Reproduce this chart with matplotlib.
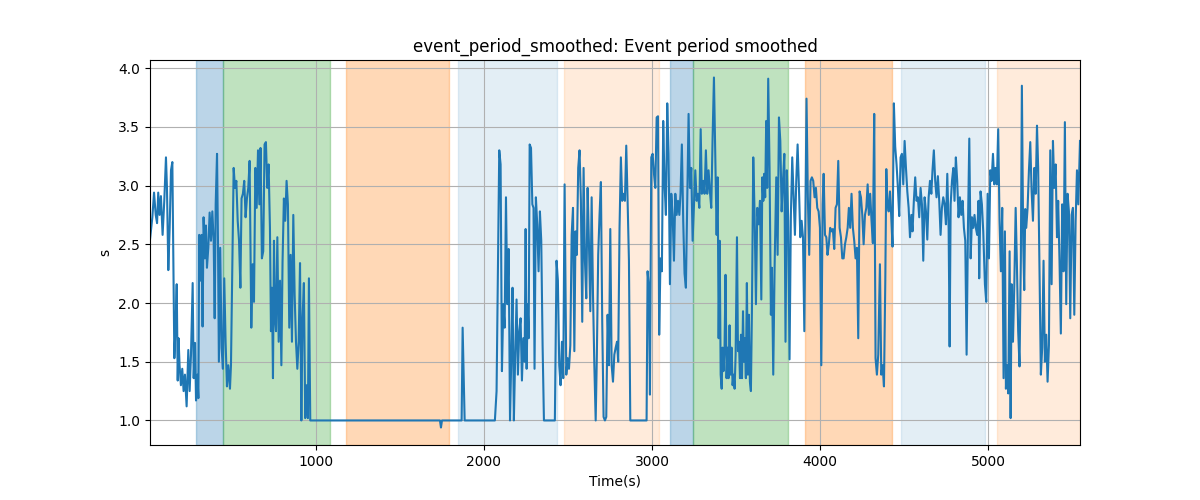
import matplotlib
matplotlib.use("Agg")
import matplotlib.pyplot as plt
import numpy as np

# ---- shaded phases (start, end in seconds) ----
span_start = [286, 446, 1179, 1845, 2476, 3107, 3244, 3911, 4482, 5054]
span_end   = [446, 1083, 1792, 2435, 3042, 3244, 3810, 4429, 4982, 5548]
span_color = ["tab:blue", "tab:green", "tab:orange", "tab:blue", "tab:orange",
              "tab:blue", "tab:green", "tab:orange", "tab:blue", "tab:orange"]
span_alpha = [0.3, 0.3, 0.3, 0.12, 0.15, 0.3, 0.3, 0.3, 0.12, 0.15]

# ---- signal ----
seg1_t = [12, 26, 36, 46, 54, 61, 69, 77, 87, 97,
          107, 113, 121, 129, 137, 145, 153, 157, 165, 171,
          177, 182, 188, 196, 204, 212, 220, 230, 240, 248,
          256, 266, 272, 280, 286, 294, 300, 305, 311, 319,
          325, 331, 339, 345, 351, 359, 367, 375, 383, 391,
          397, 403, 411, 417, 422, 430, 438, 446, 454, 462,
          470, 478, 488, 494, 502, 510, 518, 526, 534, 542,
          550, 557, 565, 573, 581, 589, 597, 605]
seg1_v = [2.54, 2.73, 2.94, 2.75, 2.68, 2.94, 2.75, 2.91, 2.58, 2.87,
          3.24, 2.98, 2.28, 2.64, 3.13, 3.20, 2.13, 1.53, 1.84, 2.16,
          1.34, 1.70, 1.47, 1.30, 1.44, 1.25, 1.39, 1.12, 1.60, 1.25,
          1.56, 2.17, 1.36, 1.66, 1.17, 1.39, 1.19, 2.58, 2.19, 2.58,
          1.80, 2.73, 2.38, 2.66, 2.30, 2.47, 2.77, 2.53, 2.78, 2.53,
          1.87, 2.84, 3.27, 2.47, 1.50, 2.47, 1.62, 1.44, 2.21, 1.67,
          1.29, 1.47, 1.27, 1.47, 2.28, 3.15, 2.98, 3.04, 2.70, 2.53,
          2.13, 2.89, 2.93, 3.04, 2.73, 2.89, 2.98, 3.21]

seg2_t = [615, 623, 631, 639, 647, 655, 663, 670, 678, 686,
          694, 702, 710, 718, 726, 732, 738, 744, 750, 756,
          762, 770, 778, 786, 794, 801, 809, 817, 825, 833,
          841, 849, 857, 865, 873, 881, 889, 897, 905, 913,
          920, 928, 936, 944, 952, 958, 966]
seg2_v = [1.79, 2.33, 2.01, 3.15, 2.81, 3.30, 2.84, 3.32, 2.38, 2.44,
          3.35, 3.37, 2.98, 3.18, 2.64, 1.76, 2.13, 1.36, 2.53, 1.87,
          1.76, 2.56, 1.67, 2.19, 1.47, 2.35, 2.89, 2.70, 3.04, 2.84,
          1.79, 2.41, 1.67, 2.75, 2.07, 1.67, 1.44, 1.67, 2.34, 1.00,
          1.87, 2.17, 1.02, 1.30, 1.02, 2.21, 1.00]

seg3_t = [1000, 1200, 1400, 1600, 1738, 1744, 1750, 1867, 1873, 1885, 2000, 2065]
seg3_v = [1.00, 1.00, 1.00, 1.00, 1.00, 0.94, 1.00, 1.00, 1.79, 1.00, 1.00, 1.00]

seg4_t = [2075, 2091, 2099, 2107, 2115, 2123, 2131, 2139, 2147, 2155,
          2163, 2170, 2178, 2186, 2194, 2202, 2210, 2218, 2226, 2234,
          2242, 2248, 2254, 2260, 2266, 2272, 2280, 2288, 2295, 2301,
          2309, 2317, 2325, 2333, 2341, 2349, 2357, 2422, 2432, 2440,
          2448, 2456, 2464, 2472, 2480]
seg4_v = [1.25, 3.30, 3.18, 1.42, 1.99, 1.79, 2.90, 1.99, 2.46, 1.00,
          1.56, 2.13, 1.00, 1.56, 2.03, 1.39, 1.76, 1.87, 1.34, 1.70,
          1.50, 2.63, 1.44, 1.99, 1.70, 3.35, 3.32, 2.84, 2.81, 1.44,
          2.90, 2.67, 2.27, 2.78, 2.53, 1.64, 1.00, 1.00, 2.36, 2.19,
          1.47, 1.30, 1.67, 1.36, 3.01]

seg5_t = [2490, 2498, 2506, 2514, 2522, 2530, 2538, 2545, 2553, 2561,
          2569, 2577, 2585, 2593, 2601, 2609, 2617, 2625, 2633, 2641,
          2649, 2657, 2665, 2672, 2680, 2688, 2696, 2704, 2712, 2720,
          2728, 2736, 2744, 2752, 2760, 2768, 2776, 2784, 2792, 2799,
          2807, 2815, 2823, 2831, 2839, 2847, 2855, 2863, 2871, 2968,
          2974, 2982, 2988, 2996, 3004, 3012, 3020, 3028, 3036, 3043,
          3051, 3059, 3067, 3075, 3083, 3091, 3099]
seg5_v = [1.39, 1.53, 1.44, 1.64, 2.58, 2.81, 1.59, 2.61, 2.41, 3.15,
          3.30, 2.87, 1.84, 3.15, 2.36, 2.04, 2.98, 2.50, 1.93, 2.90,
          2.07, 1.47, 1.00, 1.56, 2.41, 2.75, 3.03, 1.84, 1.03, 1.00,
          1.03, 1.90, 1.47, 2.63, 1.47, 1.33, 1.56, 1.62, 1.67, 1.50,
          2.64, 3.24, 2.87, 2.93, 2.87, 3.34, 2.87, 2.36, 1.00, 1.00,
          2.27, 2.13, 1.22, 3.24, 3.27, 3.10, 2.98, 3.58, 3.59, 1.73,
          2.38, 2.27, 3.55, 3.01, 2.75, 3.70, 3.27]

seg6_t = [3107, 3115, 3123, 3131, 3139, 3147, 3155, 3163, 3170, 3178,
          3186, 3194, 3202, 3210, 3218, 3226, 3234, 3242, 3250, 3258,
          3266, 3274, 3282, 3290, 3297, 3305, 3313, 3321, 3329, 3337,
          3345, 3353, 3361, 3369, 3377, 3385, 3391, 3397, 3403, 3409,
          3415, 3420, 3426, 3432, 3438, 3444, 3450, 3456, 3462, 3468,
          3474, 3480, 3486, 3492, 3498, 3506, 3512, 3518, 3524, 3530,
          3536, 3542, 3547, 3553, 3559, 3565, 3571, 3577, 3583, 3589,
          3595, 3603, 3611, 3619, 3627, 3635, 3643, 3651, 3657, 3663,
          3668, 3674, 3680, 3686, 3692, 3700, 3708, 3714, 3722, 3730]
seg6_v = [2.16, 2.93, 2.75, 2.36, 2.93, 2.75, 2.87, 2.75, 2.93, 3.35,
          2.70, 2.25, 2.13, 2.87, 3.61, 2.98, 3.15, 2.53, 2.84, 3.13,
          2.87, 2.93, 2.81, 3.48, 2.93, 3.04, 2.93, 3.30, 2.93, 3.13,
          2.95, 2.81, 3.41, 3.92, 3.24, 2.58, 3.07, 1.70, 2.53, 1.39,
          1.27, 1.62, 1.42, 1.62, 2.24, 1.36, 1.62, 1.36, 1.81, 1.39,
          1.62, 1.30, 1.39, 1.27, 1.56, 2.56, 1.59, 1.67, 1.36, 1.73,
          1.36, 1.93, 1.50, 1.70, 1.36, 2.17, 1.39, 1.90, 1.33, 1.25,
          1.93, 3.24, 2.75, 1.99, 2.81, 2.67, 2.87, 2.03, 3.07, 2.87,
          3.10, 2.90, 3.55, 2.98, 3.91, 3.15, 1.90, 2.30, 1.39, 2.30]

seg7_t = [3740, 3748, 3756, 3764, 3772, 3780, 3788, 3795, 3803, 3811,
          3819, 3827, 3835, 3843, 3851, 3859, 3867, 3875, 3883, 3891,
          3899, 3907, 3915, 3920, 3928, 3936, 3944, 3952, 3960, 3968,
          3976, 3984, 3992, 4000, 4008, 4016, 4022, 4030, 4038, 4045,
          4053, 4061, 4069, 4077, 4085, 4093, 4101, 4109, 4117, 4125,
          4133, 4141, 4149, 4157, 4165, 4172, 4180, 4188, 4196, 4204,
          4212, 4220, 4228, 4236, 4244, 4252, 4260, 4268, 4276, 4284,
          4291, 4299, 4307, 4315, 4323, 4331, 4339, 4347]
seg7_v = [3.07, 2.41, 3.58, 3.38, 2.78, 3.04, 3.27, 1.67, 3.13, 2.70,
          1.52, 2.75, 3.24, 2.90, 2.58, 3.04, 3.35, 2.98, 2.56, 2.70,
          2.56, 1.76, 2.98, 3.74, 2.90, 2.41, 3.04, 3.07, 3.04, 2.90,
          2.98, 2.81, 2.78, 2.64, 1.47, 2.84, 3.10, 2.58, 2.56, 2.41,
          2.50, 2.64, 2.61, 2.63, 2.46, 2.81, 2.84, 3.21, 2.64, 2.56,
          2.38, 2.38, 2.50, 2.56, 2.64, 2.81, 2.64, 2.93, 2.64, 2.53,
          2.38, 2.47, 1.70, 2.95, 2.90, 2.75, 2.50, 2.75, 2.81, 3.01,
          2.75, 2.93, 2.70, 2.51, 3.61, 1.53, 1.39, 1.56]

seg8_t = [4357, 4365, 4373, 4381, 4389, 4395, 4401, 4409, 4417, 4424,
          4432, 4440, 4448, 4456, 4464, 4472, 4480, 4488, 4496, 4504,
          4512, 4520, 4528, 4536, 4544, 4551, 4559, 4567, 4575, 4583,
          4591, 4599, 4607, 4615, 4623, 4631, 4639, 4647, 4655, 4663,
          4670, 4678, 4686, 4694, 4702, 4710, 4718, 4726, 4734, 4742,
          4750, 4758, 4766, 4772, 4778, 4786, 4794, 4801, 4809, 4817,
          4825, 4833, 4841, 4849, 4857, 4865, 4873, 4881, 4889, 4897,
          4905, 4913, 4920, 4928, 4936, 4944, 4948, 4956, 4964, 4972]
seg8_v = [2.33, 1.39, 1.47, 1.29, 2.19, 3.14, 2.87, 2.78, 2.95, 2.75,
          2.48, 3.70, 3.33, 3.18, 2.98, 2.74, 3.24, 3.27, 3.01, 3.38,
          3.15, 2.95, 2.81, 2.56, 2.75, 2.61, 2.87, 3.07, 2.87, 2.90,
          2.73, 2.98, 2.84, 2.36, 2.90, 2.78, 2.54, 2.90, 3.04, 2.93,
          3.13, 3.30, 3.04, 2.90, 3.08, 2.87, 2.58, 2.81, 2.90, 2.84,
          2.67, 3.10, 2.64, 1.63, 2.84, 3.04, 3.15, 2.87, 3.24, 3.04,
          2.73, 2.90, 2.75, 2.87, 2.64, 2.53, 1.56, 2.64, 3.40, 2.38,
          2.73, 2.64, 2.75, 2.64, 2.58, 2.87, 2.21, 2.95, 2.84, 2.61]

seg9_t = [4982, 4990, 4998, 5006, 5014, 5022, 5030, 5038, 5045, 5053,
          5061, 5069, 5077, 5085, 5093, 5101, 5107, 5113, 5121, 5129,
          5135, 5141, 5149, 5157, 5165, 5172, 5180, 5188, 5196, 5202,
          5210, 5216, 5222, 5228, 5236, 5244, 5252, 5260, 5268, 5276,
          5284, 5292, 5299, 5307, 5315, 5323, 5331, 5339, 5347, 5355,
          5363, 5371, 5379, 5387, 5395, 5403, 5411, 5418, 5426, 5434,
          5442, 5450, 5458, 5466, 5474, 5482, 5490, 5498, 5506, 5514,
          5522, 5530, 5538, 5548]
seg9_v = [2.16, 2.01, 2.93, 2.38, 3.13, 3.04, 3.27, 3.01, 3.15, 3.01,
          3.48, 2.70, 2.27, 2.81, 1.36, 2.61, 1.27, 1.47, 1.23, 2.44,
          1.02, 2.16, 1.67, 2.16, 2.81, 2.36, 1.76, 1.46, 2.38, 3.85,
          2.50, 2.11, 2.80, 2.64, 2.81, 3.13, 3.37, 2.95, 2.70, 3.15,
          2.93, 3.51, 3.15, 2.27, 1.39, 1.62, 2.36, 1.50, 1.73, 1.33,
          1.64, 3.30, 2.16, 3.38, 2.98, 3.18, 2.56, 2.87, 2.36, 1.74,
          2.84, 2.27, 3.54, 1.99, 2.93, 2.78, 1.87, 2.75, 2.81, 1.90,
          2.70, 3.13, 2.84, 3.38]

segs_t = [seg1_t, seg2_t, seg3_t, seg4_t, seg5_t, seg6_t, seg7_t, seg8_t, seg9_t]
segs_v = [seg1_v, seg2_v, seg3_v, seg4_v, seg5_v, seg6_v, seg7_v, seg8_v, seg9_v]

time = np.concatenate([np.array(a, float) for a in segs_t])
value = np.concatenate([np.array(b, float) for b in segs_v])

fig, ax = plt.subplots(figsize=(12, 5), dpi=100)
for s, e, c, al in zip(span_start, span_end, span_color, span_alpha):
    ax.axvspan(s, e, color=c, alpha=al)
ax.plot(time, value, color="tab:blue", linewidth=1.5)
ax.set_xlim(time.min(), time.max())
ax.grid(True)
ax.set_title("event_period_smoothed: Event period smoothed")
ax.set_xlabel("Time(s)")
ax.set_ylabel("s")
fig.savefig("out.png", dpi=100)
